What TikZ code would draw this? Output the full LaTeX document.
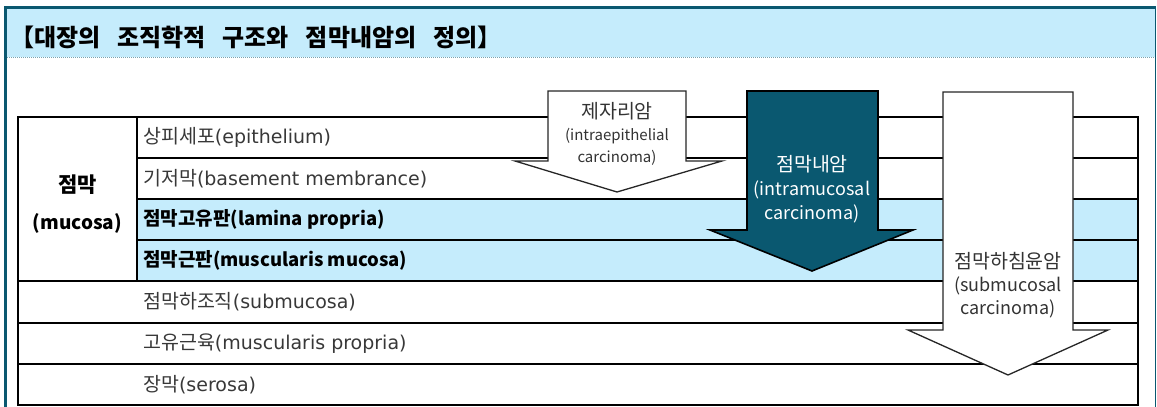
\documentclass[tikz,border=0pt]{standalone}
\usepackage{fontspec}
\setmainfont{Noto Sans CJK KR}
\newfontfamily\latinwide{DejaVu Sans}
\usepackage{xcolor}
\usepackage{tikz}
\usetikzlibrary{positioning}
\definecolor{deepteal}{HTML}{0A5870}
\definecolor{paleblue}{HTML}{C5ECFC}
\newcommand{\kor}[1]{{\fontsize{19.5}{22}\selectfont#1}}
\newcommand{\lat}[1]{{\latinwide\fontsize{19}{22}\selectfont#1}}
\newcommand{\bkor}[1]{{\fontsize{19}{22}\selectfont#1}}
\newcommand{\blat}[1]{{\fontsize{18.5}{22}\selectfont#1}}
\tikzset{
  rowtext/.style={anchor=west,inner sep=0pt,text=black!78},
  boldrow/.style={anchor=west,inner sep=0pt,font=\bfseries},
  cancertext/.style={align=center,inner sep=0pt,text=black!80},
  layerline/.style={line width=2.2pt},
  cancerarrow/.style={draw=black!85,line width=1.3pt,fill=white},
}

\begin{document}
\begin{tikzpicture}[x=1pt,y=-1pt]
  \useasboundingbox (0,0) rectangle (1157,407);
  \fill[paleblue] (7,9) rectangle (1155,57);
  \draw[deepteal!55,line width=1pt,dash pattern=on 1pt off 1pt] (7,57) -- (1155,57);
  \draw[deepteal,line width=2.8pt] (5.4,407) -- (5.4,7.6) -- (1156,7.6);
  \draw[deepteal,line width=1.2pt] (1155.4,7.6) -- (1155.4,407);
  \node[anchor=west,inner sep=0pt,font={\fontsize{24}{28}\selectfont\bfseries\spaceskip=17pt\relax}] (title) at (10,37) {【대장의 조직학적 구조와 점막내암의 정의】};
  % layers of the colon wall
  \fill[paleblue] (137,199) rectangle (1138,281);
  \draw[layerline] (18,117) rectangle (1138,405);
  \foreach \y in {158,199,240} {\draw[layerline] (137,\y) -- (1138,\y);}
  \foreach \y in {281,323,364} {\draw[layerline] (18,\y) -- (1138,\y);}
  \draw[layerline] (137,117) -- (137,281);
  \node[align=center,inner sep=0pt,font=\fontsize{19}{37}\selectfont\bfseries] (mucosa) at (77.5,204) {\fontsize{21}{37}\selectfont 점막\\\fontsize{19}{37}\selectfont(mucosa)};
  \node[rowtext] (epi) at (143,137.5) {\kor{상피세포}\lat{(epithelium)}};
  \node[rowtext] (basement) at (143,178.5) {\kor{기저막}\lat{(basement membrance)}};
  \node[boldrow] (lamina) at (143,219.5) {\bkor{점막고유판}\blat{(lamina propria)}};
  \node[boldrow] (muscmuc) at (143,260.5) {\bkor{점막근판}\blat{(muscularis mucosa)}};
  \node[rowtext] (submuc) at (143,302) {\kor{점막하조직}\lat{(submucosa)}};
  \node[rowtext] (muscprop) at (143,343.5) {\kor{고유근육}\lat{(muscularis propria)}};
  \node[rowtext] (serosa) at (143,384.5) {\kor{장막}\lat{(serosa)}};
  % depth of the three carcinomas
  \draw[cancerarrow] (548,91) -- (686,91) -- (686,161) -- (722,161) -- (617,192) -- (515,161) -- (548,161) -- cycle;
  \draw[fill=deepteal,draw=black,line width=1.6pt] (747,91) -- (878,91) -- (878,230) -- (913,230) -- (812,271) -- (710,230) -- (747,230) -- cycle;
  \draw[cancerarrow] (943,92) -- (1073,92) -- (1073,330) -- (1108,330) -- (1008,375) -- (908,330) -- (943,330) -- cycle;
  \node[cancertext,font=\fontsize{19.5}{22}\selectfont] (insitu) at (617,134) {제자리암\\\fontsize{15}{19}\selectfont(intraepithelial\\\fontsize{15}{19}\selectfont carcinoma)};
  \node[cancertext,text=white,font=\fontsize{19.5}{24}\selectfont] (intramuc) at (812,189) {점막내암\\\fontsize{18}{24}\selectfont(intramucosal\\\fontsize{18}{24}\selectfont carcinoma)};
  \node[cancertext,font=\fontsize{19.5}{23}\selectfont] (invasive) at (1008,285) {점막하침윤암\\\fontsize{18}{23}\selectfont(submucosal\\\fontsize{18}{23}\selectfont carcinoma)};
\end{tikzpicture}
\end{document}
